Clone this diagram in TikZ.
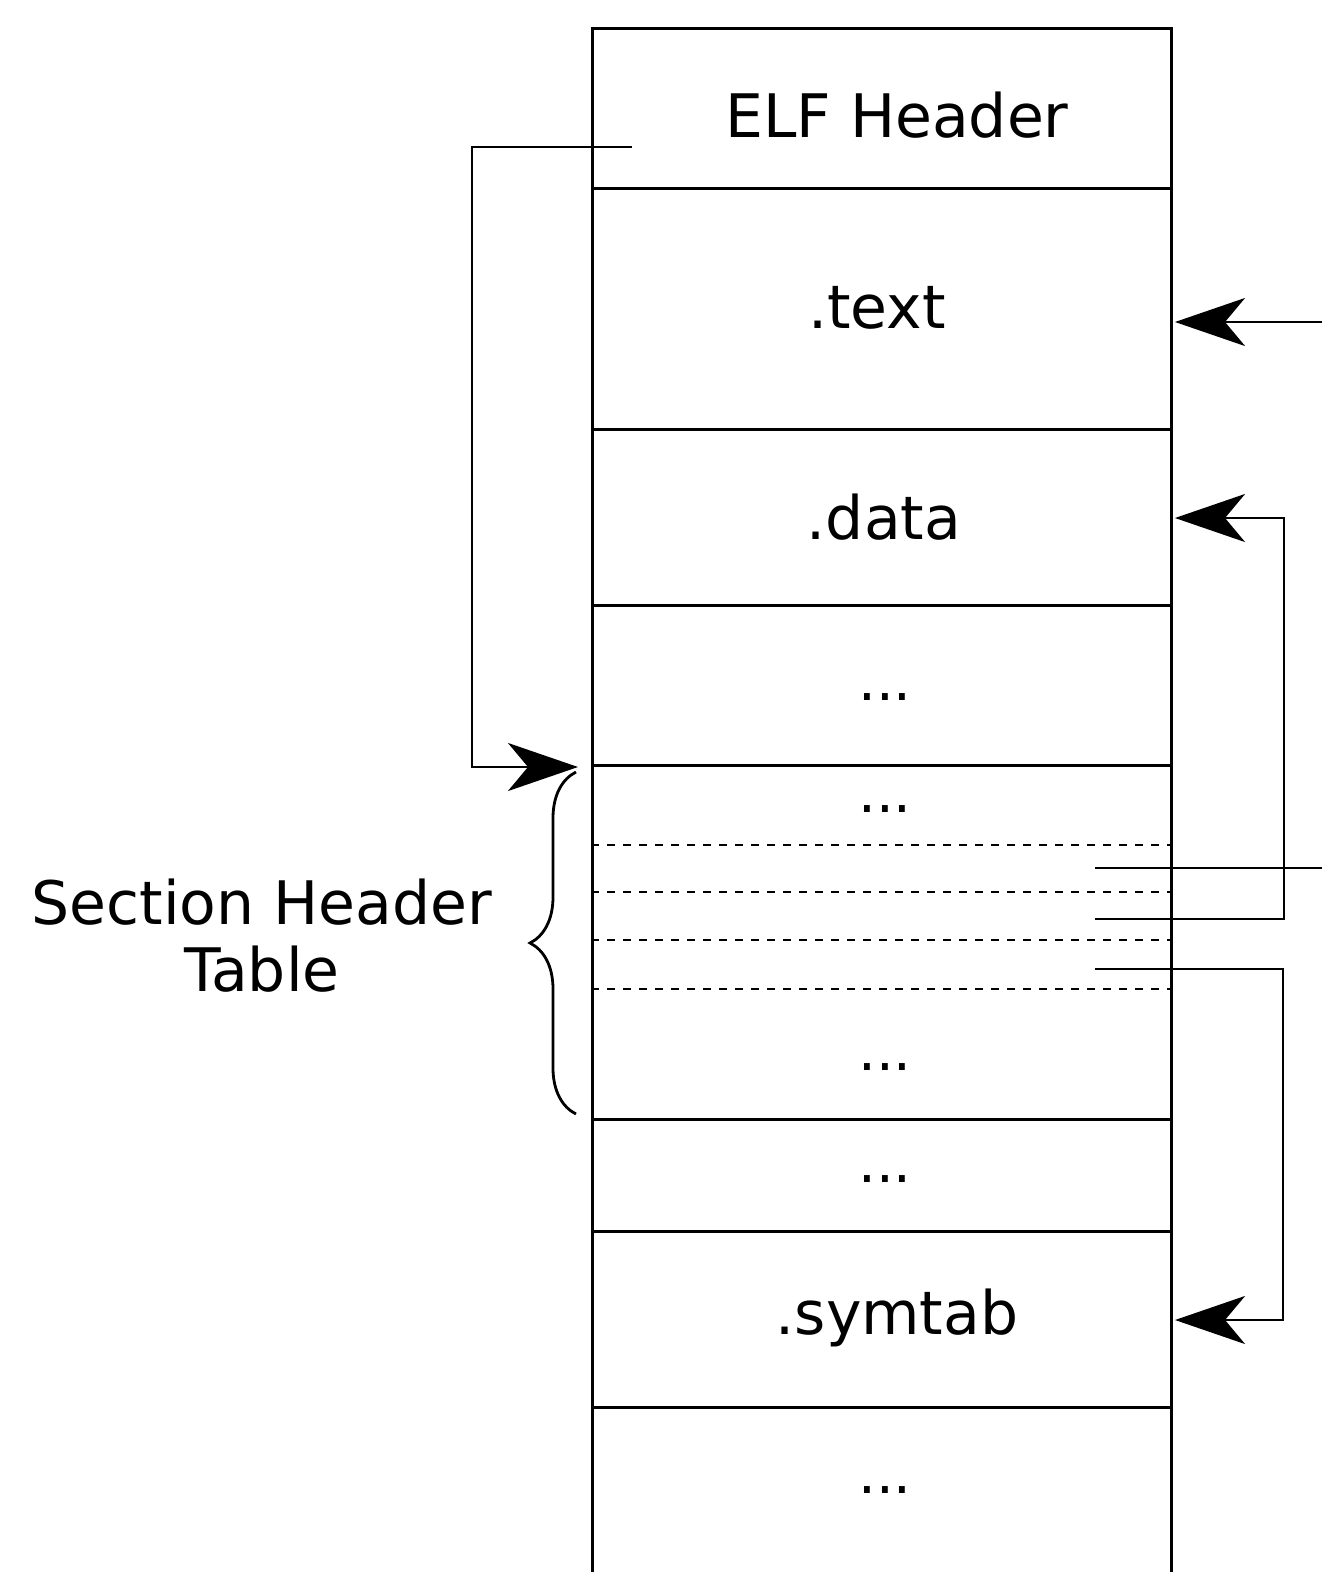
\documentclass[tikz,border=0pt]{standalone}
\usepackage{fontspec}
\setmainfont{DejaVu Sans}
\usetikzlibrary{arrows.meta,decorations.pathreplacing}

\tikzset{
  row/.style={draw, line width=2.8pt, minimum width=579pt, inner sep=0pt, anchor=north west},
  lbl/.style={font=\fontsize{60pt}{67pt}\selectfont, inner sep=0pt, align=center},
  dots/.style={font=\fontsize{56pt}{67pt}\selectfont, inner sep=0pt},
  entry/.style={line width=2.6pt, dash pattern=on 8pt off 8pt},
  link/.style={line width=2.8pt},
  ptr/.style={line width=2.8pt, -{Stealth[length=70pt,width=48pt,inset=20pt]}},
  curly/.style={line width=2.8pt, decorate, decoration={brace, amplitude=46pt, aspect=0.5}}
}

\begin{document}
\begin{tikzpicture}[x=1pt, y=-1pt]
  \useasboundingbox (0,0) rectangle (1322,1572);

  % ELF file layout, one row per region
  \node[row, minimum height=160pt] (hdr)  at (591,27)   {};
  \node[row, minimum height=241pt] (text) at (591,187)  {};
  \node[row, minimum height=176pt] (data) at (591,428)  {};
  \node[row, minimum height=160pt] (gap1) at (591,604)  {};
  \node[row, minimum height=354pt] (sht)  at (591,764)  {};
  \node[row, minimum height=112pt] (gap2) at (591,1118) {};
  \node[row, minimum height=176pt] (sym)  at (591,1230) {};
  \node[row, minimum height=190pt] (gap3) at (591,1406) {};

  % individual section header entries
  \foreach \yy in {845,892,940,989}
    \draw[entry] (591,\yy) -- (1170,\yy);

  % row labels
  \node[lbl]  (hdrT)  at (897,115)  {ELF Header};
  \node[lbl]  (textT) at (877,308)  {.text};
  \node[lbl]  (dataT) at (884,517)  {.data};
  \node[dots] (d1)    at (885,697)  {...};
  \node[dots] (d2)    at (885,809)  {...};
  \node[dots] (d3)    at (885,1067) {...};
  \node[dots] (d4)    at (885,1179) {...};
  \node[lbl]  (symT)  at (897,1318) {.symtab};
  \node[dots] (d5)    at (885,1490) {...};

  % brace grouping the section header table
  \coordinate (brTop) at (576,772);
  \coordinate (brBot) at (576,1114);
  \draw[curly] (brBot) -- (brTop);
  \node[lbl] (shtT) at (262,936) {Section Header\\Table};

  % e_shoff: ELF header points to the section header table
  \coordinate (shoff)  at (632,147);
  \coordinate (shtTip) at (578,767);
  \draw[ptr] (shoff) -- ++(-160,0) |- (shtTip);

  % entry pointers out to the sections
  \coordinate (textIn) at (1322,322);
  \coordinate (textTip) at (1175,322);
  \draw[ptr] (textIn) -- (textTip);

  \coordinate (e1) at (1095,868);
  \coordinate (e1out) at (1322,868);
  \draw[link] (e1) -- (e1out);

  \coordinate (e2) at (1095,919);
  \coordinate (dataTip) at (1175,518);
  \draw[ptr] (e2) -- (1284,919) |- (dataTip);

  \coordinate (e3) at (1095,969);
  \coordinate (symTip) at (1175,1320);
  \draw[ptr] (e3) -- (1283,969) |- (symTip);
\end{tikzpicture}
\end{document}
